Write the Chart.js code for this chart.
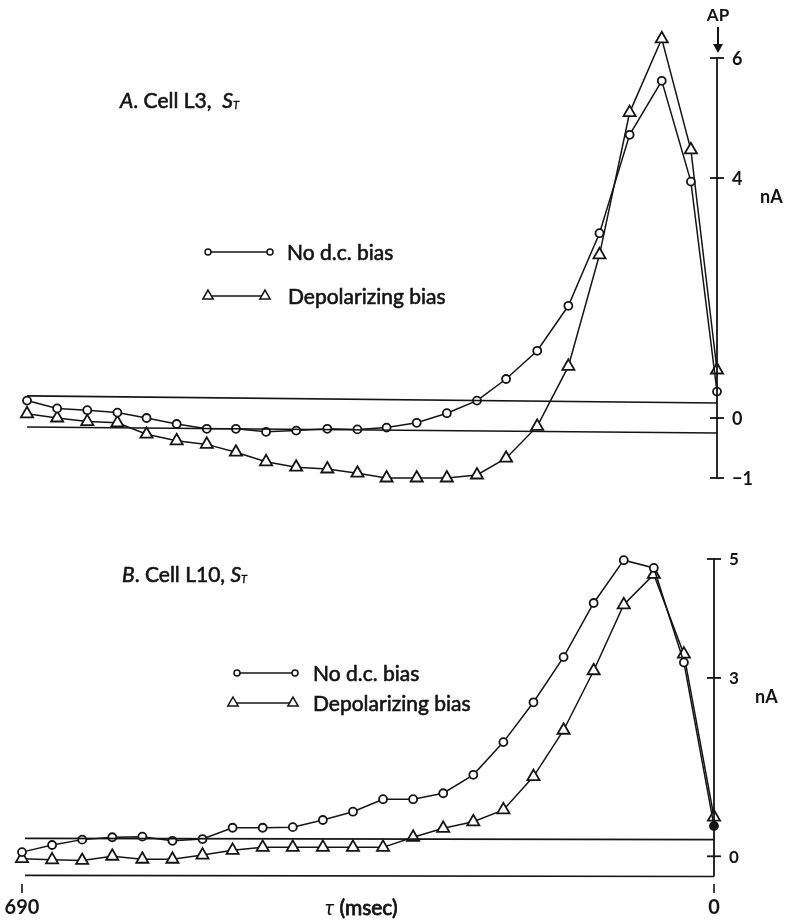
<!DOCTYPE html>
<html>
<head>
<meta charset="utf-8">
<script src="https://cdn.jsdelivr.net/npm/chart.js"></script>
<style>
  body{margin:0;background:#fff;width:787px;height:921px;position:relative;overflow:hidden}
  canvas{position:absolute;left:0}
  #cA{top:0}
  #cB{top:500px}
</style>
</head>
<body>
<canvas id="cA" width="787" height="500"></canvas>
<canvas id="cB" width="787" height="421"></canvas>
<script>
const INK = "#141414";
const FONT = "Lato, 'Open Sans', sans-serif";

// ================= DATA : panel A (cell L3) =================
const timeA = [687,657,627,597,568,538,508,479,449,419,388,358,329,299,269,239,210,179,148,117,87,55,26,0];
const noBiasA = [0.29,0.16,0.13,0.09,0.0,-0.10,-0.18,-0.18,-0.23,-0.21,-0.18,-0.19,-0.16,-0.08,0.08,0.29,0.65,1.12,1.87,3.08,4.72,5.62,3.94,0.44];
const depolA = [0.07,0.0,-0.06,-0.08,-0.27,-0.38,-0.44,-0.57,-0.73,-0.82,-0.85,-0.92,-1.0,-1.0,-1.0,-0.95,-0.67,-0.14,0.86,2.72,5.09,6.32,4.47,0.80];
const baseTimeA = [687,0];
const baseHiA = [0.37,0.25];
const baseLoA = [-0.15,-0.25];
const ticksA = [6,4,0,-1];

// ================= DATA : panel B (cell L10) =================
const timeB = [690,660,630,600,570,540,510,480,450,420,390,360,330,300,270,240,210,180,150,120,90,60,30,0];
const noBiasB = [0.07,0.19,0.28,0.32,0.33,0.26,0.29,0.48,0.48,0.49,0.61,0.75,0.96,0.96,1.06,1.37,1.92,2.59,3.35,4.26,4.98,4.85,3.26,0.51];
const depolB = [-0.04,-0.06,-0.07,0.0,-0.05,-0.05,0.02,0.10,0.15,0.15,0.15,0.15,0.15,0.32,0.47,0.58,0.78,1.34,2.12,3.12,4.23,4.74,3.40,0.66];
const baseTimeB = [687,0];
const baseHiB = [0.30,0.28];
const baseLoB = [-0.32,-0.34];
const ticksB = [5,3,0];
const xTicks = [690,0];

function pts(xs, ys){ return xs.map((x,i)=>({x, y:ys[i]})); }

// ================= small drawing helpers =================
function marker(ctx, style, x, y, r){
  ctx.beginPath();
  if (style === "circle") {
    ctx.arc(x, y, r, 0, Math.PI*2);
  } else {
    ctx.moveTo(x, y - r);
    ctx.lineTo(x + r*0.866, y + r*0.5);
    ctx.lineTo(x - r*0.866, y + r*0.5);
    ctx.closePath();
  }
  ctx.fillStyle = "#fff";
  ctx.fill();
  ctx.stroke();
}

// text made of pieces, each with its own style / size / raise
// (a thin outline gives the regular face a little more weight)
function richText(ctx, x, y, parts){
  parts.forEach(p=>{
    ctx.font = `${p.it ? "italic " : ""}${p.w || "normal"} ${p.s}px ${FONT}`;
    ctx.fillText(p.t, x, y + (p.dy || 0));
    if (p.thick) {
      ctx.lineWidth = p.thick;
      ctx.strokeText(p.t, x, y + (p.dy || 0));
    }
    x += ctx.measureText(p.t).width;
  });
}

function lineDs(data, style, radius){
  return {
    data, borderColor: INK, borderWidth: 1.5, tension: 0, clip: false,
    pointStyle: style, pointRadius: radius, pointBorderWidth: 1.8,
    pointBorderColor: INK, pointBackgroundColor: "#fff"
  };
}
function baseDs(data){
  return { data, borderColor: INK, borderWidth: 1.7, pointRadius: 0, tension: 0, clip: false };
}

// ================= plugin : right-hand axis, labels, legend =================
const decor = {
  id: "decor",
  afterDatasetsDraw(chart, args, o){
    const {ctx, chartArea, scales:{x, y}} = chart;
    const ax = chartArea.right;
    ctx.save();
    ctx.strokeStyle = INK;
    ctx.fillStyle = INK;
    ctx.lineWidth = 1.8;
    ctx.textBaseline = "middle";

    // vertical axis
    ctx.beginPath();
    ctx.moveTo(ax, y.getPixelForValue(o.axisTop));
    ctx.lineTo(ax, y.getPixelForValue(o.axisBottom));
    ctx.stroke();
    o.ticks.forEach(v=>{
      const py = y.getPixelForValue(v);
      ctx.beginPath();
      ctx.moveTo(ax - 7, py); ctx.lineTo(ax + 7, py);
      ctx.stroke();
      ctx.font = `bold ${o.tickSize}px ${FONT}`;
      ctx.textAlign = "left";
      ctx.fillText(v < 0 ? "\u2212" + Math.abs(v) : String(v), ax + 15, py + 1);
    });
    ctx.font = `bold 18px ${FONT}`;
    ctx.fillText("nA", o.unit[0], o.unit[1]);

    // panel title
    ctx.textAlign = "left";
    richText(ctx, o.title[0], o.title[1], o.titleParts);

    // legend
    o.legend.forEach(l=>{
      ctx.lineWidth = 1.4;
      ctx.beginPath();
      ctx.moveTo(l.x1, l.y); ctx.lineTo(l.x2, l.y);
      ctx.stroke();
      ctx.lineWidth = 1.5;
      marker(ctx, l.style, l.x1, l.y, l.r);
      marker(ctx, l.style, l.x2, l.y, l.r);
      ctx.fillStyle = INK;
      richText(ctx, l.tx, l.y + 1, [{t:l.text, s:21, thick:0.6}]);
    });

    // AP marker above the axis
    if (o.ap) {
      ctx.textAlign = "center";
      ctx.font = `bold 17px ${FONT}`;
      ctx.fillText("AP", ax + 1, 16);
      ctx.lineWidth = 2;
      ctx.beginPath(); ctx.moveTo(ax + 1, 27); ctx.lineTo(ax + 1, 46); ctx.stroke();
      ctx.beginPath();
      ctx.moveTo(ax - 4, 44); ctx.lineTo(ax + 6, 44); ctx.lineTo(ax + 1, 53); ctx.closePath();
      ctx.fill();
    }

    // time axis labels
    if (o.time) {
      ctx.lineWidth = 1.6;
      ctx.textAlign = "center";
      xTicks.forEach(v=>{
        const px = x.getPixelForValue(v);
        ctx.beginPath(); ctx.moveTo(px, 384); ctx.lineTo(px, 393); ctx.stroke();
        ctx.font = `bold 20px ${FONT}`;
        ctx.fillText(String(v), px, 408);
      });
      ctx.textAlign = "left";
      richText(ctx, 325, 408, [
        {t:"\u03c4", it:true, s:21},
        {t:" (msec)", s:21, thick:0.8}
      ]);
    }
    ctx.restore();
  }
};

function makeChart(id, datasets, yMin, yMax, pad, opts){
  return new Chart(document.getElementById(id), {
    type: "line",
    data: { datasets },
    options: {
      responsive: false,
      animation: false,
      devicePixelRatio: 1,
      layout: { padding: pad },
      scales: {
        x: { type: "linear", min: 0, max: 690, reverse: true, display: false },
        y: { min: yMin, max: yMax, display: false }
      },
      plugins: { legend: { display: false }, tooltip: { enabled: false }, decor: opts }
    },
    plugins: [decor]
  });
}

// ================= PANEL A =================
makeChart("cA", [
  baseDs(pts(baseTimeA, baseHiA)),
  baseDs(pts(baseTimeA, baseLoA)),
  lineDs(pts(timeA, noBiasA), "circle", 4),
  lineDs(pts(timeA, depolA), "triangle", 7)
], -1, 6.5, {left:24, right:70, top:28, bottom:22}, {
  axisTop: 6, axisBottom: -1, ticks: ticksA, tickSize: 18,
  unit: [760, 197],
  title: [120, 101],
  titleParts: [
    {t:"A", it:true, s:21, thick:0.6},
    {t:". Cell L3,  ", s:21, thick:0.6},
    {t:"S", it:true, s:21, thick:0.6},
    {t:"T", it:true, s:11, dy:4, thick:0.4}
  ],
  legend: [
    {style:"circle", r:3, x1:208, x2:270, y:252, text:"No d.c. bias", tx:287},
    {style:"triangle", r:6, x1:208, x2:265, y:296, text:"Depolarizing bias", tx:288}
  ],
  ap: true
});

// ================= PANEL B =================
const dsNoBiasB = lineDs(pts(timeB, noBiasB), "circle", 4);
dsNoBiasB.pointBackgroundColor = c => c.dataIndex === noBiasB.length - 1 ? INK : "#fff";

makeChart("cB", [
  baseDs(pts(baseTimeB, baseHiB)),
  baseDs(pts(baseTimeB, baseLoB)),
  dsNoBiasB,
  lineDs(pts(timeB, depolB), "triangle", 7)
], -0.5, 5, {left:22, right:73, top:59, bottom:35}, {
  axisTop: 5, axisBottom: baseLoB[1], ticks: ticksB, tickSize: 17,
  unit: [755, 197],
  title: [122, 75],
  titleParts: [
    {t:"B", it:true, s:21, thick:0.6},
    {t:". Cell L10, ", s:21, thick:0.6},
    {t:"S", it:true, s:21, thick:0.6},
    {t:"T", it:true, s:11, dy:4, thick:0.4}
  ],
  legend: [
    {style:"circle", r:3, x1:237, x2:295, y:173, text:"No d.c. bias", tx:313},
    {style:"triangle", r:6, x1:233, x2:293, y:203, text:"Depolarizing bias", tx:313}
  ],
  time: true
});
</script>
</body>
</html>
